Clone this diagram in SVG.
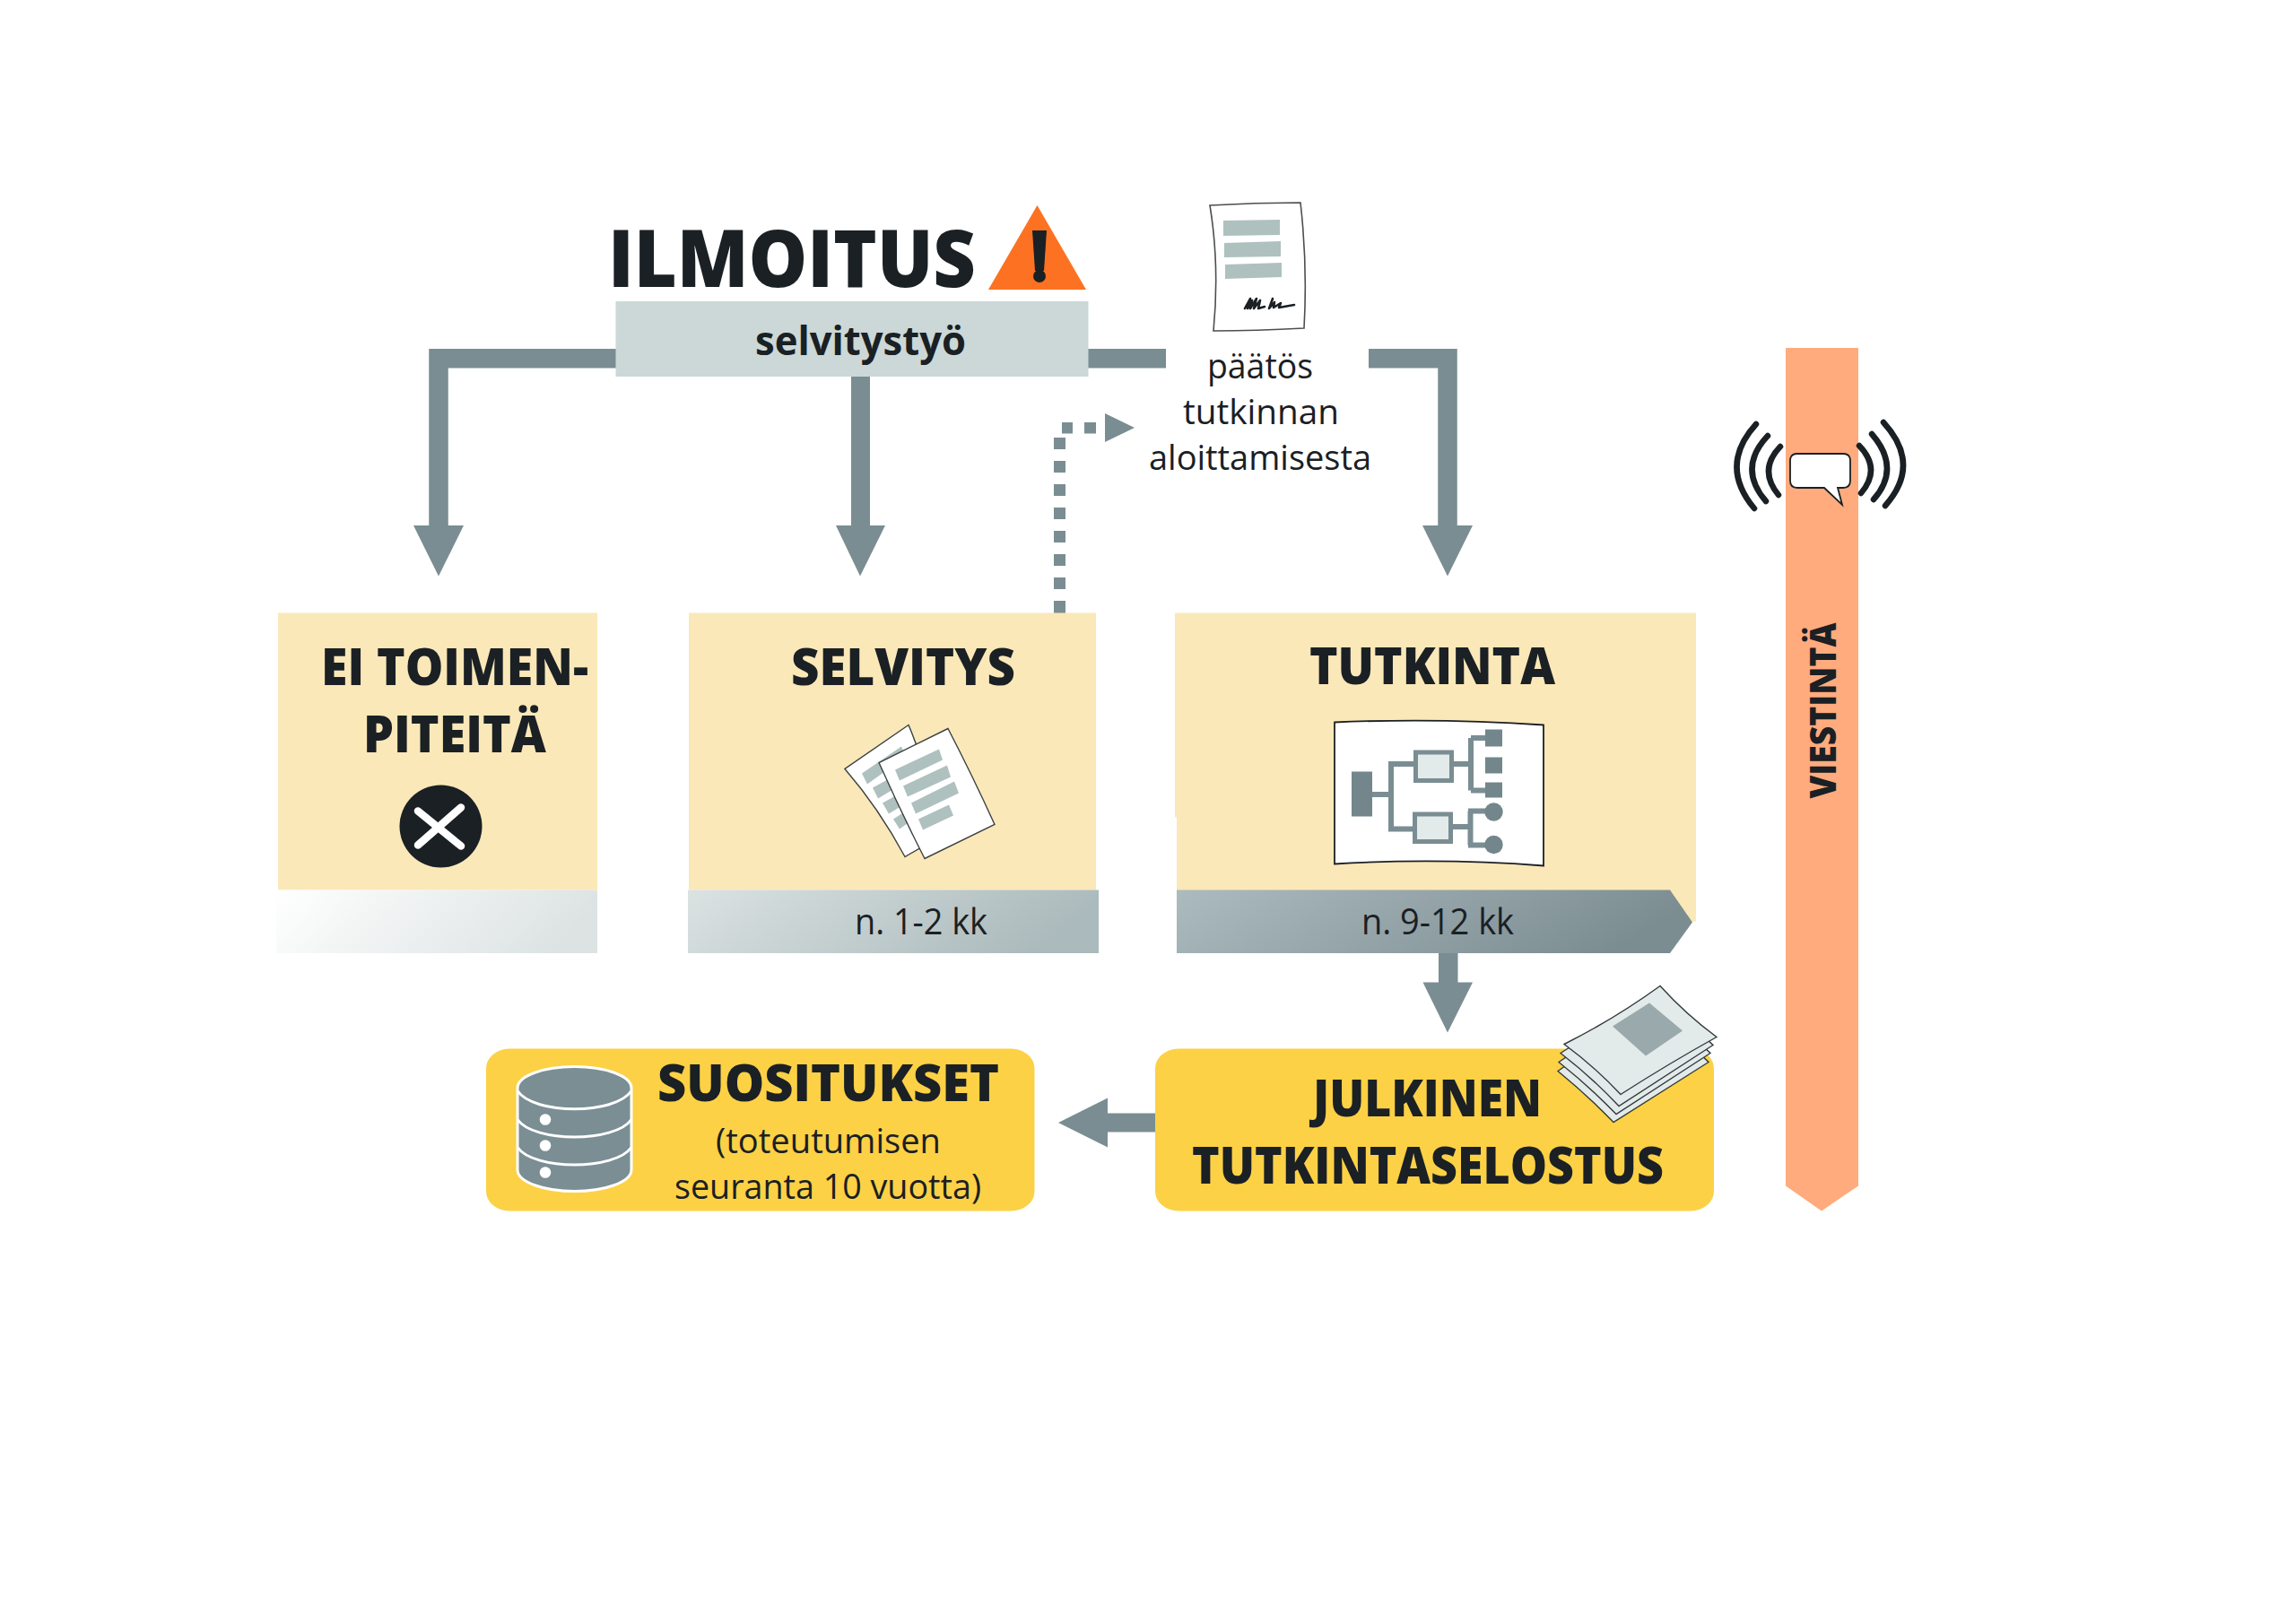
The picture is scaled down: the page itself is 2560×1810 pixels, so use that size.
<svg xmlns="http://www.w3.org/2000/svg" width="2560" height="1810" viewBox="0 0 2560 1810">
<style>
text{font-family:"Open Sans","Noto Sans","Liberation Sans",sans-serif;fill:#1a2024}
.b{font-weight:700}
.h{font-size:57px;font-weight:800}
.t{font-size:38px}
.k{font-size:40px}
.cn{fill:#7a8d93}
.ln{fill:none;stroke:#7a8d93;stroke-width:21.5}
.box{fill:#fbe8b8}
.gold{fill:#fcd145}
.bar{fill:#aec1bf}
.sheet{fill:#fff;stroke:#3a4042;stroke-width:1.4}
.stack{fill:#e2eaea;stroke:#33393b;stroke-width:1.4}
.wave{fill:none;stroke:#1a2024;stroke-width:6.5;stroke-linecap:round}
.cdark{fill:#73868c}
.cl{fill:none;stroke:#7a8d93;stroke-width:6}
</style>
<defs>
<linearGradient id="g0" x1="0" y1="0" x2="1" y2="0.2"><stop offset="0" stop-color="#ffffff"/><stop offset="1" stop-color="#dde3e3"/></linearGradient>
<linearGradient id="g1" x1="0" y1="0" x2="1" y2="0.2"><stop offset="0" stop-color="#dbe2e2"/><stop offset="1" stop-color="#abbabc"/></linearGradient>
<linearGradient id="g2" x1="0" y1="0" x2="1" y2="0.2"><stop offset="0" stop-color="#acbbbe"/><stop offset="1" stop-color="#7c8d92"/></linearGradient>
</defs>
<rect width="2560" height="1810" fill="#fff"/>

<g id="connectors">
<path class="ln" d="M687 399.7H489V590"/>
<polygon class="cn" points="461,586 517,586 489,642.5"/>
<rect class="cn" x="949" y="418" width="21" height="170"/>
<polygon class="cn" points="932,586 987,586 959,642.5"/>
<rect class="cn" x="1212" y="389" width="88" height="21.5"/>
<path class="ln" d="M1526 399.7H1614V590"/>
<polygon class="cn" points="1586,586 1642,586 1614,642.5"/>
<g class="cn">
<rect x="1175" y="488" width="13" height="13"/><rect x="1175" y="514" width="13" height="13"/><rect x="1175" y="540" width="13" height="13"/><rect x="1175" y="566" width="13" height="13"/><rect x="1175" y="592" width="13" height="13"/><rect x="1175" y="618" width="13" height="13"/><rect x="1175" y="644" width="13" height="13"/><rect x="1175" y="670" width="13" height="14"/>
<rect x="1184" y="471" width="12" height="12.5"/><rect x="1209" y="471" width="13" height="12.5"/>
<polygon points="1232,461 1265,477 1232,493"/>
</g>
<rect class="cn" x="1604" y="1060" width="21.5" height="38"/>
<polygon class="cn" points="1586.5,1095.5 1642,1095.5 1614,1151.5"/>
<rect class="cn" x="1233" y="1241.5" width="56" height="21"/>
<polygon class="cn" points="1180,1252 1235,1224.5 1235,1279.5"/>
</g>

<g id="ilmoitus">
<text class="b" x="678" y="320" font-size="89" textLength="410" lengthAdjust="spacingAndGlyphs" style="font-weight:800">ILMOITUS</text>
<polygon points="1156.5,229 1211,323 1102,323" fill="#fd7222"/>
<path d="M1151 257H1167L1164 302H1154Z" fill="#1a2024"/>
<circle cx="1159" cy="308" r="7" fill="#1a2024"/>
</g>

<g id="selvitystyo">
<rect x="686.5" y="336" width="527" height="84" fill="#cbd8d7"/>
<text class="b" x="842" y="396" font-size="44" textLength="235" lengthAdjust="spacingAndGlyphs">selvitystyö</text>
</g>

<g id="paatos">
<g transform="translate(0 1)">
<path d="M1349 228Q1400 225 1450 225Q1458 295 1454 365Q1400 368 1353 368Q1360 295 1349 228Z" fill="#fff" stroke="#4a4f50" stroke-width="1.6"/>
<polygon class="bar" points="1364,245 1427,244 1427,261 1364,262"/>
<polygon class="bar" points="1365,270 1428,268 1428,285 1365,286"/>
<polygon class="bar" points="1366,294 1429,292 1429,308 1366,310"/>
<path d="M1388 343L1394 332L1391 343L1396 334L1394 343L1401 332L1398 343L1405 334L1403 343L1410 341M1419 332L1415 343L1421 336L1420 342L1428 337L1426 342L1443 339" fill="none" stroke="#1a2024" stroke-width="2.6" stroke-linejoin="round" stroke-linecap="round"/>
</g>
<text class="t" x="1346" y="422" textLength="118" lengthAdjust="spacingAndGlyphs">päätös</text>
<text class="t" x="1319" y="473" textLength="174" lengthAdjust="spacingAndGlyphs">tutkinnan</text>
<text class="t" x="1281" y="524" textLength="248" lengthAdjust="spacingAndGlyphs">aloittamisesta</text>
</g>

<g id="ei-toimenpiteita" transform="translate(0 1.5)">
<rect class="box" x="310" y="682" width="356" height="309"/>
<rect x="308" y="991" width="358" height="70.5" fill="url(#g0)"/>
<text class="h" x="358" y="762" textLength="298" lengthAdjust="spacingAndGlyphs">EI TOIMEN-</text>
<text class="h" x="405" y="837" textLength="204" lengthAdjust="spacingAndGlyphs">PITEITÄ</text>
<circle cx="491.5" cy="920" r="46" fill="#1a2024"/>
<path d="M466 903L514 942M514 899L466 941" fill="none" stroke="#fff" stroke-width="8.5" stroke-linecap="round"/>
</g>

<g id="selvitys" transform="translate(0 1.5)">
<rect class="box" x="768" y="682" width="454" height="309"/>
<rect x="767" y="991" width="458" height="70.5" fill="url(#g1)"/>
<text class="h" x="882" y="762" textLength="250" lengthAdjust="spacingAndGlyphs">SELVITYS</text>
<text class="k" x="953" y="1040" textLength="148" lengthAdjust="spacingAndGlyphs">n. 1-2 kk</text>
<path class="sheet" d="M1013 807L942 856Q980 900 1009 954L1040 936Q1040 870 1013 807Z"/>
<g class="bar">
<polygon points="961,861 1005,831 1010,842 967,873"/>
<polygon points="973,877 1017,853 1022,863 979,889"/>
<polygon points="984,894 1027,870 1032,881 991,906"/>
<polygon points="996,912 1030,890 1035,900 1003,923"/>
</g>
<path class="sheet" d="M1057 811L980 849Q1005 905 1031 956L1109 918Q1085 865 1057 811Z"/>
<g class="bar">
<polygon points="998,857 1047,834 1051,846 1003,869"/>
<polygon points="1007,875 1056,852 1060,865 1012,887"/>
<polygon points="1016,894 1064,870 1069,883 1021,906"/>
<polygon points="1024,912 1058,896 1063,908 1029,924"/>
</g>
</g>

<g id="tutkinta" transform="translate(0 1.5)">
<polygon class="box" points="1310,682 1891,682 1891,1026 1880,1027 1312,1000 1312,910 1310,910"/>
<polygon points="1312,991 1862,991 1887,1027 1862,1061.5 1312,1061.5" fill="url(#g2)"/>
<text class="h" x="1460" y="761.5" textLength="274" lengthAdjust="spacingAndGlyphs">TUTKINTA</text>
<text class="k" x="1518" y="1040" textLength="170" lengthAdjust="spacingAndGlyphs">n. 9-12 kk</text>
<path d="M1488 804Q1605 799 1721 807V964Q1605 955 1488 962Z" fill="#fff" stroke="#1a2024" stroke-width="1.8"/>
<g>
<rect class="cdark" x="1507" y="859" width="23" height="50"/>
<path class="cl" d="M1530 884.5H1551M1551 850.5V923M1548 850.5H1576M1548 923H1576M1621 850.5H1640M1640 821.5V880M1640 821.5H1658M1640 880H1658"/>
<path class="cl" d="M1620 920.5H1639.5M1639.5 903V941M1637 903H1658M1637 941H1658"/>
<rect x="1578.5" y="837.5" width="40" height="31.5" fill="#e2eaea" stroke="#7a8d93" stroke-width="5"/>
<rect x="1577.5" y="906.5" width="40" height="30.5" fill="#e2eaea" stroke="#7a8d93" stroke-width="5"/>
<rect class="cdark" x="1656" y="812" width="19" height="19"/>
<rect class="cdark" x="1656" y="843" width="19" height="18"/>
<rect class="cdark" x="1656" y="871" width="19" height="17"/>
<circle class="cdark" cx="1665.5" cy="904" r="10.2"/>
<circle class="cdark" cx="1665.5" cy="940.5" r="10.2"/>
</g>
</g>

<g id="viestinta">
<polygon points="1991,388 2072,388 2072,1322.5 2031,1350.5 1991,1322.5" fill="#ffab7d"/>
<text class="b" transform="translate(2047 890.5) rotate(-90)" x="0" y="0" font-size="40" textLength="196" lengthAdjust="spacingAndGlyphs" style="font-weight:800">VIESTINTÄ</text>
<path d="M2004 506H2055Q2063 506 2063 514V536Q2063 544 2055 544H2049L2054 563L2034 544H2004Q1996 544 1996 536V514Q1996 506 2004 506Z" fill="#fff" stroke="#1a2024" stroke-width="1.8"/>
<path class="wave" d="M1958 473Q1916 519 1956 567"/>
<path class="wave" d="M1971 486Q1937 522 1969 559"/>
<path class="wave" d="M1985 498Q1960 524 1983 552"/>
<path class="wave" d="M2073 497Q2098 523 2075 550"/>
<path class="wave" d="M2087 484Q2120 522 2089 557"/>
<path class="wave" d="M2100 471Q2143 518 2102 564"/>
</g>

<g id="suositukset" transform="translate(0 1.5)">
<rect class="gold" x="542" y="1168" width="611.5" height="181" rx="26" ry="22"/>
<path d="M577 1212C577 1198 607 1188 640.5 1188C674 1188 704 1198 704 1212V1303C704 1317 674 1327 640.5 1327C607 1327 577 1317 577 1303Z" fill="#7a8e94" stroke="#fff" stroke-width="3"/>
<g fill="none" stroke="#fff" stroke-width="3">
<path d="M577 1215C595 1242 686 1242 704 1215"/>
<path d="M577 1247C595 1273 686 1273 704 1247"/>
<path d="M577 1278C595 1304 686 1304 704 1278"/>
</g>
<circle cx="608" cy="1247" r="6.3" fill="#fff"/>
<circle cx="608" cy="1276" r="6.3" fill="#fff"/>
<circle cx="608" cy="1306" r="6.3" fill="#fff"/>
<text class="h" x="733" y="1226.5" textLength="381" lengthAdjust="spacingAndGlyphs">SUOSITUKSET</text>
<text class="t" x="798" y="1284" textLength="251" lengthAdjust="spacingAndGlyphs">(toteutumisen</text>
<text class="t" x="752" y="1335" textLength="342" lengthAdjust="spacingAndGlyphs">seuranta 10 vuotta)</text>
</g>

<g id="julkinen-tutkintaselostus" transform="translate(0 1.5)">
<rect class="gold" x="1288" y="1168" width="623" height="181" rx="26" ry="22"/>
<text class="h" x="1464" y="1243" textLength="255" lengthAdjust="spacingAndGlyphs">JULKINEN</text>
<text class="h" x="1329" y="1318" textLength="526" lengthAdjust="spacingAndGlyphs">TUTKINTASELOSTUS</text>
<path class="stack" d="M1737 1193L1840 1121L1905 1183L1799 1250Q1770 1220 1737 1193Z"/>
<path class="stack" d="M1738 1183L1842 1112L1907 1173L1802 1241Q1772 1210 1738 1183Z"/>
<path class="stack" d="M1740 1173L1846 1104L1910 1164L1805 1232Q1775 1200 1740 1173Z"/>
<path class="stack" d="M1744 1163Q1800 1135 1851 1098Q1880 1130 1914 1155Q1860 1185 1807 1219Q1778 1188 1744 1163Z"/>
<polygon points="1839,1117 1876,1148 1835,1176 1798,1143" fill="#99a9ac"/>
</g>
</svg>
